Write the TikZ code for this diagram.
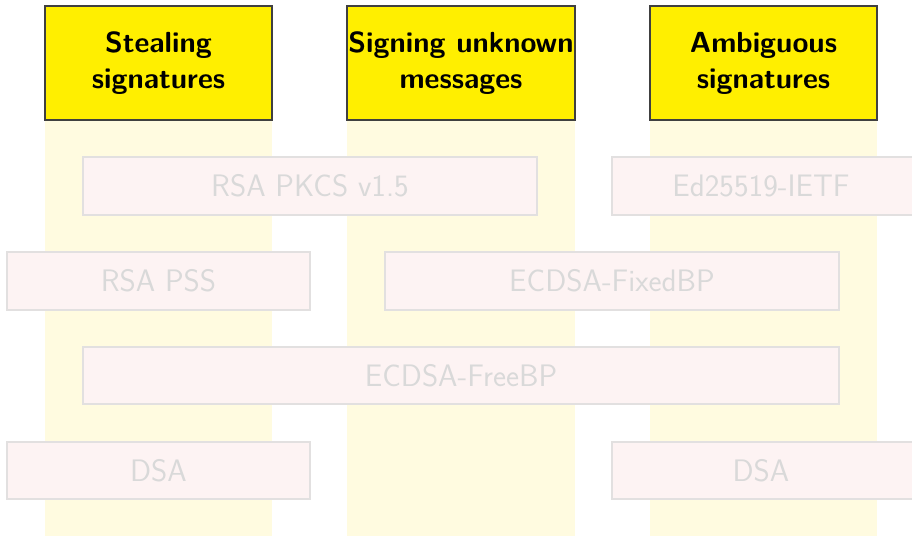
\documentclass[tikz,border=0pt]{standalone}
\usepackage{fontspec}
\begin{document}
\begin{tikzpicture}[x=0.75pt,y=-0.75pt,
  hdr/.style={draw=black!75,line width=0.8pt,fill=hdryellow,font=\sffamily\bfseries\fontsize{21.8}{27}\selectfont,align=center,inner sep=0pt},
  colbg/.style={fill=colyellow,draw=none},
  algo/.style={draw=boxborder,line width=0.8pt,fill=boxfill,text=boxtext,font=\sffamily\fontsize{23.3}{26}\selectfont,inner sep=0pt}]
\definecolor{hdryellow}{HTML}{FFEF00}
\definecolor{colyellow}{HTML}{FFFBE0}
\definecolor{boxfill}{HTML}{FDF3F3}
\definecolor{boxborder}{HTML}{E2E0E0}
\definecolor{boxtext}{HTML}{D9D9D9}
\useasboundingbox (0,0) rectangle (912,535);
% column backgrounds
\fill[colbg] (45,120) rectangle (272,540);
\fill[colbg] (347,120) rectangle (575,540);
\fill[colbg] (650,120) rectangle (877,540);
% headers
\node[hdr,minimum width=227*0.75pt,minimum height=114*0.75pt] (h1) at (158.5,63) {Stealing\\signatures};
\node[hdr,minimum width=228*0.75pt,minimum height=114*0.75pt] (h2) at (461,63) {Signing unknown\\messages};
\node[hdr,minimum width=227*0.75pt,minimum height=114*0.75pt] (h3) at (763.5,63) {Ambiguous\\signatures};
% algorithm boxes
\node[algo,minimum width=454*0.75pt,minimum height=58*0.75pt] (pkcs) at (310,186) {RSA PKCS v1.5};
\node[algo,minimum width=306*0.75pt,minimum height=58*0.75pt] (ed) at (765,186) {\hspace*{-6pt}Ed25519-IETF};
\node[algo,minimum width=303*0.75pt,minimum height=58*0.75pt] (pss) at (158.5,281) {RSA PSS};
\node[algo,minimum width=454*0.75pt,minimum height=58*0.75pt] (fixed) at (612,281) {ECDSA-FixedBP};
\node[algo,minimum width=756*0.75pt,minimum height=57*0.75pt] (free) at (461,375.5) {ECDSA-FreeBP};
\node[algo,minimum width=303*0.75pt,minimum height=57*0.75pt] (dsa1) at (158.5,470.5) {DSA};
\node[algo,minimum width=306*0.75pt,minimum height=57*0.75pt] (dsa2) at (765,470.5) {\hspace*{-6pt}DSA};
\end{tikzpicture}
\end{document}
